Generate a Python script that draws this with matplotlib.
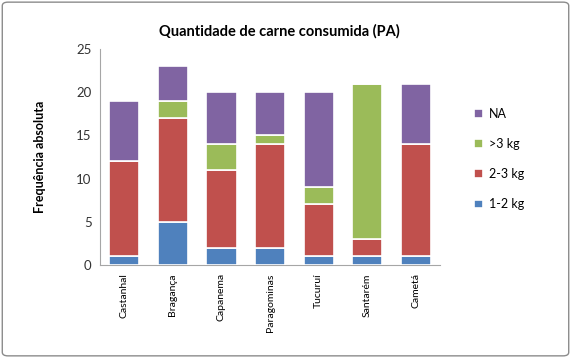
import matplotlib
matplotlib.use('Agg')
import matplotlib.pyplot as plt
from matplotlib.patches import FancyBboxPatch
import numpy as np

plt.rcParams['font.family'] = ['Lato', 'DejaVu Sans']

# data
cities = ['Castanhal', 'Bragança', 'Capanema', 'Paragominas', 'Tucuruí', 'Santarém', 'Cametá']
kg_1_2 = [1, 5, 2, 2, 1, 1, 1]
kg_2_3 = [11, 12, 9, 12, 6, 2, 13]
kg_3 = [0, 2, 3, 1, 2, 18, 0]
na = [7, 4, 6, 5, 11, 0, 7]
series_labels = ['1-2 kg', '2-3 kg', '>3 kg', 'NA']
yticks = [0, 5, 10, 15, 20, 25]

colors = ['#4F81BD', '#C0504D', '#9BBB59', '#8064A2']

fig = plt.figure(figsize=(5.71, 3.58), dpi=100)
# outer chart border
fig.patches.append(FancyBboxPatch((0.004, 0.006), 0.992, 0.988, boxstyle='round,pad=0,rounding_size=0.01',
                                  transform=fig.transFigure, fill=False, edgecolor='#8c8c8c', linewidth=1))

ax = fig.add_axes([0.175, 0.26, 0.596, 0.603])
x = np.arange(len(cities))
bottom = np.zeros(len(cities))
handles = []
for vals, col, lab in zip([kg_1_2, kg_2_3, kg_3, na], colors, series_labels):
    vals = np.array(vals, dtype=float)
    b = ax.bar(x, vals, 0.62, bottom=bottom, color=col, edgecolor='white', linewidth=1.2, label=lab, zorder=3)
    handles.append(b)
    bottom += vals

ax.set_xlim(-0.5, len(cities) - 0.5)
ax.set_ylim(0, 25)
ax.set_yticks(yticks)
ax.set_xticks(x)
ax.set_xticklabels(cities, rotation=90, fontsize=7.5)
ax.tick_params(axis='y', labelsize=9.5, length=0, pad=6, colors='#333333')
ax.tick_params(axis='x', length=0, pad=6)
for s in ['top', 'right']:
    ax.spines[s].set_visible(False)
ax.spines['left'].set_color('#a6a6a6')
ax.spines['bottom'].set_color('#a6a6a6')

ax.set_ylabel('Frequência absoluta', fontsize=9, fontweight='bold', labelpad=22)
fig.text(0.49, 0.913, 'Quantidade de carne consumida (PA)', ha='center', va='center',
         fontsize=10.5, fontweight='bold')

leg = fig.legend(handles[::-1], series_labels[::-1], loc='upper left', bbox_to_anchor=(0.81, 0.73),
                 frameon=False, fontsize=9, handlelength=0.7, handleheight=0.7,
                 labelspacing=1.45, handletextpad=0.5)

plt.savefig('out.png', dpi=100)
